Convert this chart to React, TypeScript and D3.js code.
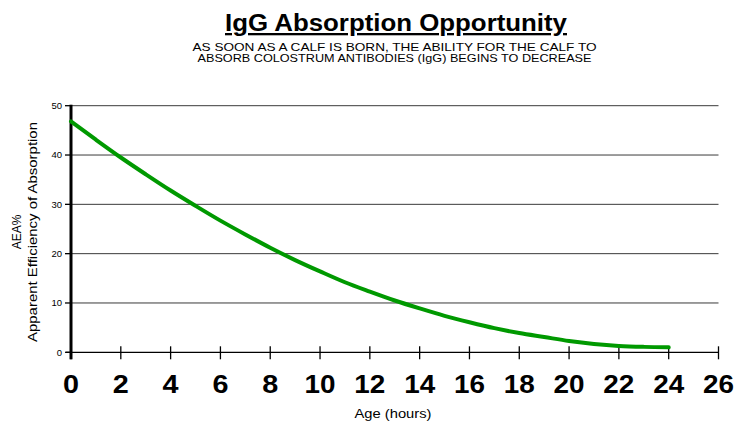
import React, { useEffect, useRef } from "react";
import * as d3 from "d3";

// hours after birth
const hours: number[] = [
  0, 1, 2, 3, 4, 5, 6, 7, 8, 9, 10, 11, 12, 13, 14, 15, 16, 17, 18, 19, 20, 21,
  22, 23, 24,
];
// AEA%
const aea: number[] = [
  46.8, 43.1, 39.5, 36.1, 32.8, 29.7, 26.7, 23.9, 21.2, 18.7, 16.4, 14.2, 12.3,
  10.5, 8.9, 7.4, 6.1, 4.9, 3.9, 3.1, 2.3, 1.7, 1.3, 1.1, 1.0,
];
const xTicks: number[] = [0, 2, 4, 6, 8, 10, 12, 14, 16, 18, 20, 22, 24, 26];
const yTicks: number[] = [0, 10, 20, 30, 40, 50];

const App: React.FC = () => {
  const ref = useRef<SVGSVGElement>(null);

  useEffect(() => {
    const svg = d3.select(ref.current);
    svg.selectAll("*").remove();

    const font = "'Liberation Sans', Arial, sans-serif";

    const x = d3.scaleLinear().domain([0, 26]).range([71, 718.5]);
    const y = d3.scaleLinear().domain([0, 50]).range([352.3, 105.7]);

    // Title (the source text is a bit stretched sideways)
    svg
      .append("text")
      .attr("x", 396)
      .attr("y", 31)
      .attr("text-anchor", "middle")
      .attr("textLength", 342)
      .attr("lengthAdjust", "spacingAndGlyphs")
      .style("font-family", font)
      .style("font-weight", "bold")
      .style("font-size", "23px")
      .style("text-decoration", "underline")
      .text("IgG Absorption Opportunity");

    const subtitle = [
      { t: "AS SOON AS A CALF IS BORN, THE ABILITY FOR THE CALF TO", w: 404 },
      { t: "ABSORB COLOSTRUM ANTIBODIES (IgG) BEGINS TO DECREASE", w: 394 },
    ];
    svg
      .selectAll(".sub")
      .data(subtitle)
      .enter()
      .append("text")
      .attr("class", "sub")
      .attr("x", 394.5)
      .attr("y", (d, i) => 50.5 + i * 11)
      .attr("text-anchor", "middle")
      .attr("textLength", (d) => d.w)
      .attr("lengthAdjust", "spacingAndGlyphs")
      .style("font-family", font)
      .style("font-size", "11px")
      .text((d) => d.t);

    // Gridlines
    svg
      .selectAll(".grid")
      .data(yTicks.filter((d) => d > 0))
      .enter()
      .append("line")
      .attr("x1", x(0))
      .attr("x2", x(26))
      .attr("y1", (d) => y(d))
      .attr("y2", (d) => y(d))
      .attr("stroke", "#3a3a3a")
      .attr("stroke-width", 1);

    // X axis line + ticks
    svg
      .append("line")
      .attr("x1", 66)
      .attr("x2", x(26))
      .attr("y1", y(0))
      .attr("y2", y(0))
      .attr("stroke", "#000")
      .attr("stroke-width", 1.3);

    svg
      .selectAll(".xtick")
      .data(xTicks)
      .enter()
      .append("line")
      .attr("x1", (d) => x(d))
      .attr("x2", (d) => x(d))
      .attr("y1", y(0) - 6)
      .attr("y2", y(0) + 7)
      .attr("stroke", "#000")
      .attr("stroke-width", 1.3);

    svg
      .selectAll(".xlabel")
      .data(xTicks)
      .enter()
      .append("text")
      .attr("x", (d) => x(d))
      .attr("y", 393)
      .attr("text-anchor", "middle")
      .attr("textLength", (d) => (d < 10 ? 16 : 31))
      .attr("lengthAdjust", "spacingAndGlyphs")
      .style("font-family", font)
      .style("font-weight", "bold")
      .style("font-size", "25px")
      .text((d) => d);

    // Y axis
    svg
      .append("line")
      .attr("x1", x(0))
      .attr("x2", x(0))
      .attr("y1", y(50) - 1)
      .attr("y2", y(0) + 7)
      .attr("stroke", "#000")
      .attr("stroke-width", 3);

    svg
      .selectAll(".ytick")
      .data(yTicks)
      .enter()
      .append("line")
      .attr("x1", x(0) - 6)
      .attr("x2", x(0))
      .attr("y1", (d) => y(d))
      .attr("y2", (d) => y(d))
      .attr("stroke", "#000")
      .attr("stroke-width", 1.3);

    svg
      .selectAll(".ylabel")
      .data(yTicks)
      .enter()
      .append("text")
      .attr("x", 62)
      .attr("y", (d) => y(d))
      .attr("dy", "0.35em")
      .attr("text-anchor", "end")
      .style("font-family", font)
      .style("font-size", "9.5px")
      .text((d) => d);

    // Y axis title, two lines
    svg
      .append("text")
      .attr("transform", "translate(21,232) rotate(-90)")
      .attr("text-anchor", "middle")
      .style("font-family", font)
      .style("font-size", "12px")
      .text("AEA%");
    svg
      .append("text")
      .attr("transform", "translate(37,232) rotate(-90)")
      .attr("text-anchor", "middle")
      .attr("textLength", 220)
      .attr("lengthAdjust", "spacingAndGlyphs")
      .style("font-family", font)
      .style("font-size", "13px")
      .text("Apparent Efficiency of Absorption");

    // X axis title
    svg
      .append("text")
      .attr("x", 393)
      .attr("y", 418)
      .attr("text-anchor", "middle")
      .attr("textLength", 77)
      .attr("lengthAdjust", "spacingAndGlyphs")
      .style("font-family", font)
      .style("font-size", "12px")
      .text("Age (hours)");

    // Curve
    const line = d3
      .line<number>()
      .x((d, i) => x(hours[i]))
      .y((d) => y(d))
      .curve(d3.curveMonotoneX);

    svg
      .append("path")
      .datum(aea)
      .attr("d", line)
      .attr("fill", "none")
      .attr("stroke", "#009900")
      .attr("stroke-width", 4)
      .attr("stroke-linecap", "round");
  }, []);

  return (
    <svg
      ref={ref}
      width={749}
      height={423}
      style={{ position: "absolute", left: 0, top: 0, background: "#fff" }}
    />
  );
};

export default App;
